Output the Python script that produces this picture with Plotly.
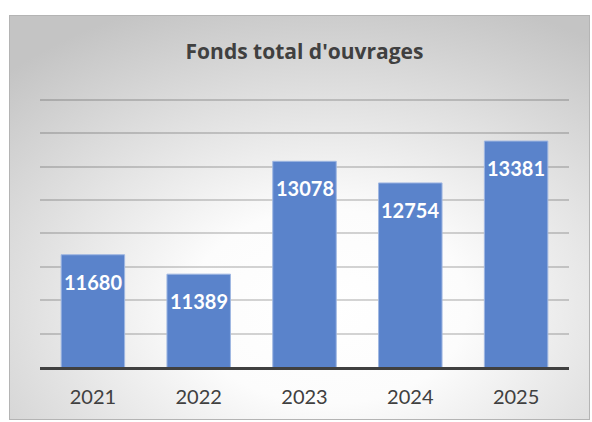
import base64
import plotly.graph_objects as go

years = ["2021", "2022", "2023", "2024", "2025"]
values = [11680, 11389, 13078, 12754, 13381]
title_text = "Fonds total d'ouvrages"

W, H = 592, 422
L, R, T, B = 40, 23, 93, 55
pw, ph = W - L - R, H - T - B

# chart-area background (radial grey gradient + thin border), as an SVG image
svg = (
    '<svg xmlns="http://www.w3.org/2000/svg" width="581" height="405" viewBox="0 0 581 405" preserveAspectRatio="none">'
    '<defs><radialGradient id="g" cx="0.55" cy="0.72" r="0.8" fx="0.55" fy="0.72">'
    '<stop offset="0" stop-color="#ffffff"/>'
    '<stop offset="0.3" stop-color="#fcfcfc"/>'
    '<stop offset="1" stop-color="#c4c4c4"/>'
    '</radialGradient></defs>'
    '<rect x="0" y="0" width="581" height="405" fill="url(#g)"/>'
    '<rect x="0.5" y="0.5" width="580" height="404" fill="none" stroke="#b4b4b4" stroke-width="1"/>'
    '</svg>'
)
src = "data:image/svg+xml;base64," + base64.b64encode(svg.encode()).decode()

x0, x1, y0, y1 = 9, 590, 15, 420
img = dict(
    source=src, xref="paper", yref="paper", layer="below",
    x=(x0 - L) / pw, y=(H - B - y0) / ph,
    sizex=(x1 - x0) / pw, sizey=(y1 - y0) / ph,
    xanchor="left", yanchor="top", sizing="stretch",
)

fig = go.Figure(
    go.Bar(
        x=years, y=values,
        marker=dict(color="#5a83cb", line=dict(color="#9fb7e2", width=1)),
        width=0.6,
        hoverinfo="x+y",
    )
)

annotations = [
    dict(x=i, y=v, xref="x", yref="y", text=str(v), showarrow=False,
         yanchor="middle", yshift=-27,
         font=dict(family="Lato", size=20, color="white", weight="bold"))
    for i, v in enumerate(values)
]

fig.update_layout(
    width=W, height=H,
    margin=dict(l=L, r=R, t=T, b=B, pad=0),
    paper_bgcolor="white",
    plot_bgcolor="rgba(0,0,0,0)",
    images=[img],
    showlegend=False,
    title=dict(text=title_text, x=0.5, xref="paper", xanchor="center",
               y=1 - 52 / H, yanchor="middle", yref="container",
               font=dict(family="Open Sans", size=21, color="#404040", weight="bold")),
    annotations=annotations,
    xaxis=dict(type="category", showline=True, linecolor="#404040", linewidth=3,
               showgrid=False, ticks="", ticklabelstandoff=10,
               tickfont=dict(family="Lato", size=20, color="#404040")),
    yaxis=dict(range=[10000, 14100], dtick=500, showticklabels=False,
               showgrid=True, gridcolor="rgba(0,0,0,0.17)", gridwidth=1.5,
               zeroline=False, showline=False, ticks=""),
)

fig.write_html("out.html")
